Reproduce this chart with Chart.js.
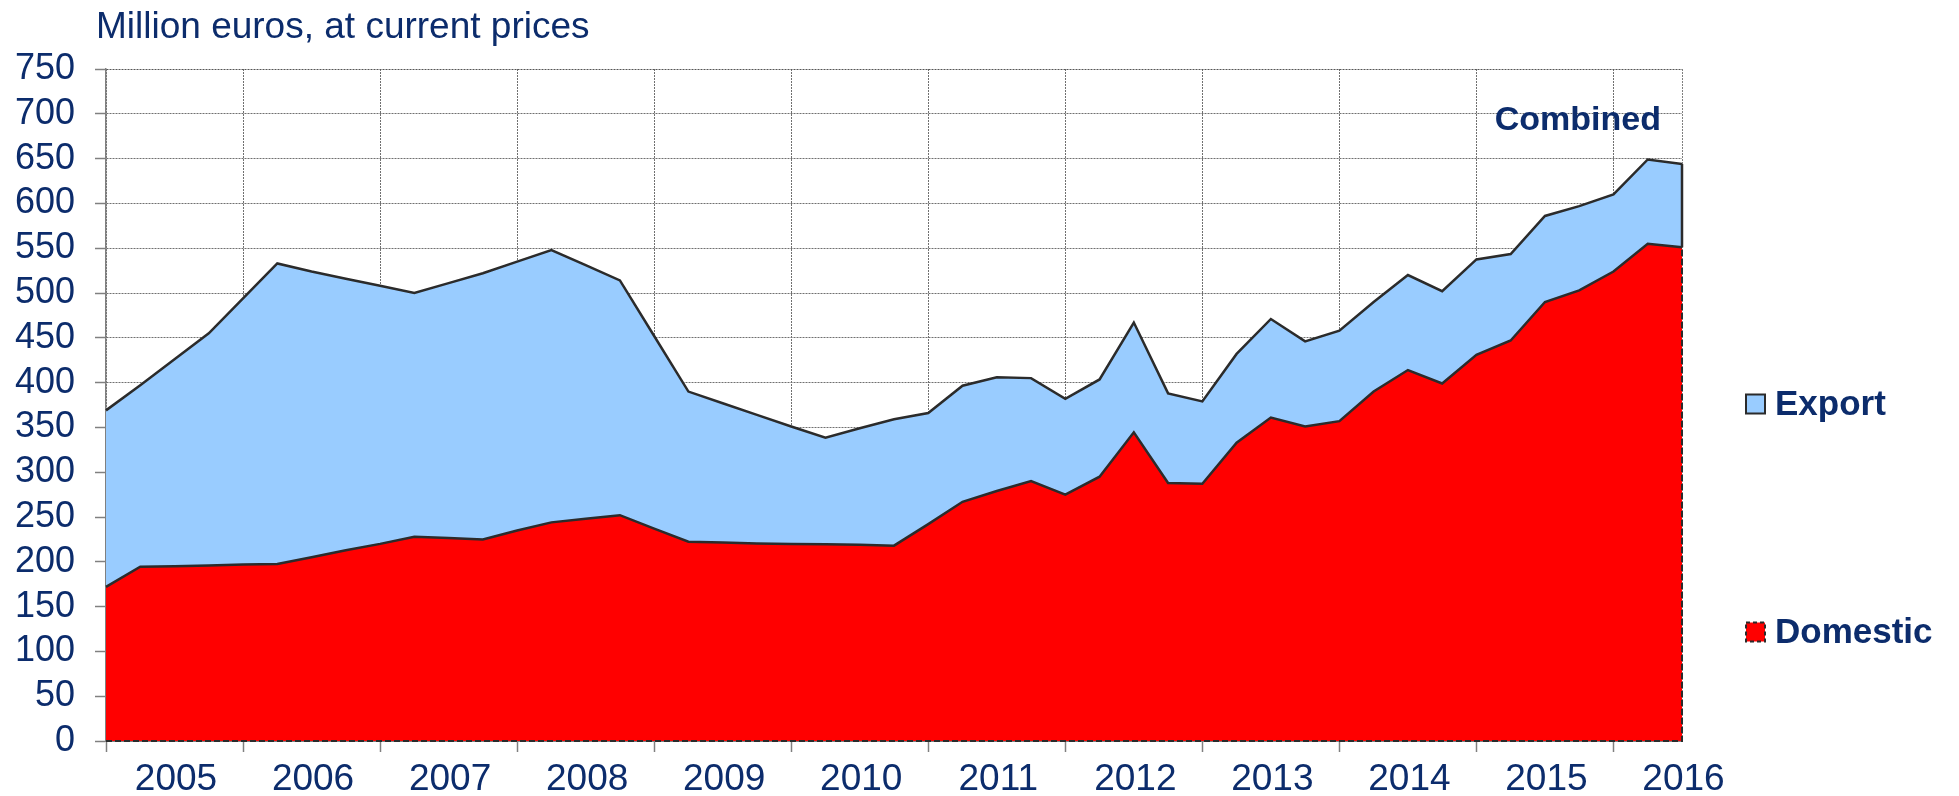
<!DOCTYPE html>
<html>
<head>
<meta charset="utf-8">
<title>Domestic and export, combined</title>
<script src="https://cdn.jsdelivr.net/npm/chart.js@4.4.1/dist/chart.umd.min.js"></script>
<style>
  html, body { margin: 0; padding: 0; background: #fff; }
  #wrap { width: 1959px; height: 796px; }
</style>
</head>
<body>
<div id="wrap"><canvas id="chart" width="1959" height="796"></canvas></div>
<script>
/* Domestic and export, quarterly, million euros at current prices */

const TITLE = 'Million euros, at current prices';
const PANEL_LABEL = 'Combined';

const QUARTERS = [
  '2005Q1', '2005Q2', '2005Q3', '2005Q4',
  '2006Q1', '2006Q2', '2006Q3', '2006Q4',
  '2007Q1', '2007Q2', '2007Q3', '2007Q4',
  '2008Q1', '2008Q2', '2008Q3', '2008Q4',
  '2009Q1', '2009Q2', '2009Q3', '2009Q4',
  '2010Q1', '2010Q2', '2010Q3', '2010Q4',
  '2011Q1', '2011Q2', '2011Q3', '2011Q4',
  '2012Q1', '2012Q2', '2012Q3', '2012Q4',
  '2013Q1', '2013Q2', '2013Q3', '2013Q4',
  '2014Q1', '2014Q2', '2014Q3', '2014Q4',
  '2015Q1', '2015Q2', '2015Q3', '2015Q4',
  '2016Q1', '2016Q2', '2016Q3',
];

const DOMESTIC = [
  172, 194.5, 195, 196,
  197, 197.5, 205, 213,
  220, 228, 226.5, 225,
  235, 244, 248, 252,
  237, 222.5, 221.5, 220.5,
  220, 219.5, 219, 218,
  242, 267, 279, 290,
  275, 295, 344.5, 288,
  287, 333, 361, 351,
  357, 390, 414, 399,
  431, 447, 490, 503,
  524, 555, 551,
];

const EXPORT = [
  197, 202.5, 231, 259,
  297, 335.5, 319, 303,
  288, 272, 284.5, 297,
  300, 304, 283, 262,
  215, 167.5, 155.5, 143.5,
  131, 119, 130, 141,
  124, 129.5, 127, 115,
  107, 108.5, 122.5, 100,
  92, 99, 110, 95,
  101, 100, 106, 103,
  106.5, 96.5, 96, 94,
  86, 94, 93,
];

const Y_MIN = 0;
const Y_MAX = 750;
const Y_STEP = 50;

const COLOR = {
  text:     '#0c2c6c',
  domestic: '#ff0000',
  export:   '#99ccff',
  line:     '#2b2b2b',
  grid:     '#707070',
  axis:     '#808080',
};
const FONT = '"Liberation Sans", Arial, Helvetica, sans-serif';

Chart.defaults.font.family = FONT;
Chart.defaults.color = COLOR.text;

const LAST = QUARTERS.length - 1;

// outline of the domestic block (dashed) on the right and bottom
const areaEdges = {
  id: 'areaEdges',
  afterDatasetsDraw(chart) {
    const { ctx, chartArea: a, scales: { y } } = chart;
    const yDom = y.getPixelForValue(DOMESTIC[LAST]);
    const yTot = y.getPixelForValue(DOMESTIC[LAST] + EXPORT[LAST]);
    ctx.save();
    ctx.strokeStyle = COLOR.line;
    ctx.lineWidth = 2;
    ctx.setLineDash([6, 3]);
    ctx.beginPath();
    ctx.moveTo(a.left, a.bottom);
    ctx.lineTo(a.right, a.bottom);
    ctx.lineTo(a.right, yDom);
    ctx.stroke();
    ctx.setLineDash([]);
    ctx.lineWidth = 2.5;
    ctx.beginPath();
    ctx.moveTo(a.right, yDom);
    ctx.lineTo(a.right, yTot);
    ctx.stroke();
    ctx.restore();
  },
};

// title, panel label and the side legend
const chartText = {
  id: 'chartText',
  afterDraw(chart, args, opts) {
    const { ctx, chartArea: a } = chart;
    ctx.save();
    ctx.fillStyle = COLOR.text;
    ctx.textBaseline = 'alphabetic';

    ctx.font = `37px ${FONT}`;
    ctx.textAlign = 'left';
    ctx.fillText(TITLE, 96, 38);

    ctx.font = `bold 34px ${FONT}`;
    ctx.textAlign = 'right';
    ctx.fillText(PANEL_LABEL, a.right - 21, 130);

    // legend, Export above Domestic
    const items = chart.data.datasets.slice().reverse();
    items.forEach((ds, i) => {
      const cy = opts.rows[i];
      const s = opts.box;
      ctx.fillStyle = ds.backgroundColor;
      ctx.fillRect(opts.x, cy - s / 2, s, s);
      ctx.strokeStyle = COLOR.line;
      ctx.lineWidth = 2;
      ctx.setLineDash(ds.label === 'Domestic' ? [4, 3] : []);
      ctx.strokeRect(opts.x, cy - s / 2, s, s);
      ctx.setLineDash([]);
      ctx.fillStyle = COLOR.text;
      ctx.font = `bold 35px ${FONT}`;
      ctx.textAlign = 'left';
      ctx.textBaseline = 'middle';
      ctx.fillText(ds.label, opts.x + s + 10, cy + 1);
    });
    ctx.restore();
  },
};

new Chart(document.getElementById('chart').getContext('2d'), {
  type: 'line',
  data: {
    labels: QUARTERS,
    datasets: [
      {
        label: 'Domestic',
        data: DOMESTIC,
        backgroundColor: COLOR.domestic,
        borderColor: COLOR.line,
        borderWidth: 2.5,
        fill: 'origin',
        pointRadius: 0,
        tension: 0,
      },
      {
        label: 'Export',
        data: EXPORT,
        backgroundColor: COLOR.export,
        borderColor: COLOR.line,
        borderWidth: 2.5,
        fill: '-1',
        pointRadius: 0,
        tension: 0,
      },
    ],
  },
  options: {
    responsive: false,
    animation: false,
    devicePixelRatio: 1,
    layout: { padding: { top: 69, right: 277, left: 0, bottom: 0 } },
    plugins: {
      legend: { display: false },
      title: { display: false },
      tooltip: { enabled: false },
      chartText: { x: 1746, box: 19, rows: [404, 632] },
    },
    scales: {
      x: {
        type: 'category',
        afterBuildTicks: axis => {
          axis.ticks = axis.ticks.filter(t => t.value % 4 === 0 || t.value === LAST);
        },
        afterFit: s => { s.height = 55; },
        ticks: {
          autoSkip: false,
          maxRotation: 0,
          minRotation: 0,
          labelOffset: 70,
          padding: 6,
          color: COLOR.text,
          font: { size: 37 },
          callback: v => (v === LAST ? '' : QUARTERS[v].slice(0, 4)),
        },
        grid: {
          color: c => (c.tick && c.tick.value === LAST ? COLOR.axis : COLOR.grid),
          lineWidth: 1,
          tickLength: 11,
          tickWidth: 1.5,
          tickColor: c => (c.tick && c.tick.value === LAST ? 'rgba(0,0,0,0)' : COLOR.axis),
          borderDash: [2, 1],
        },
        border: { display: true, color: COLOR.axis, width: 1, dash: [2, 1] },
      },
      y: {
        stacked: true,
        min: Y_MIN,
        max: Y_MAX,
        afterFit: s => { s.width = 106; },
        ticks: {
          stepSize: Y_STEP,
          autoSkip: false,
          padding: 20,
          color: COLOR.text,
          font: { size: 36 },
        },
        grid: {
          color: c => (c.tick && c.tick.value === Y_MAX ? '#555555' : COLOR.grid),
          lineWidth: 1,
          tickLength: 11,
          tickWidth: 1.5,
          tickColor: COLOR.axis,
          borderDash: [2, 1],
        },
        border: { display: true, color: COLOR.axis, width: 1.5, dash: [2, 1] },
      },
    },
  },
  plugins: [areaEdges, chartText],
});
</script>
</body>
</html>
